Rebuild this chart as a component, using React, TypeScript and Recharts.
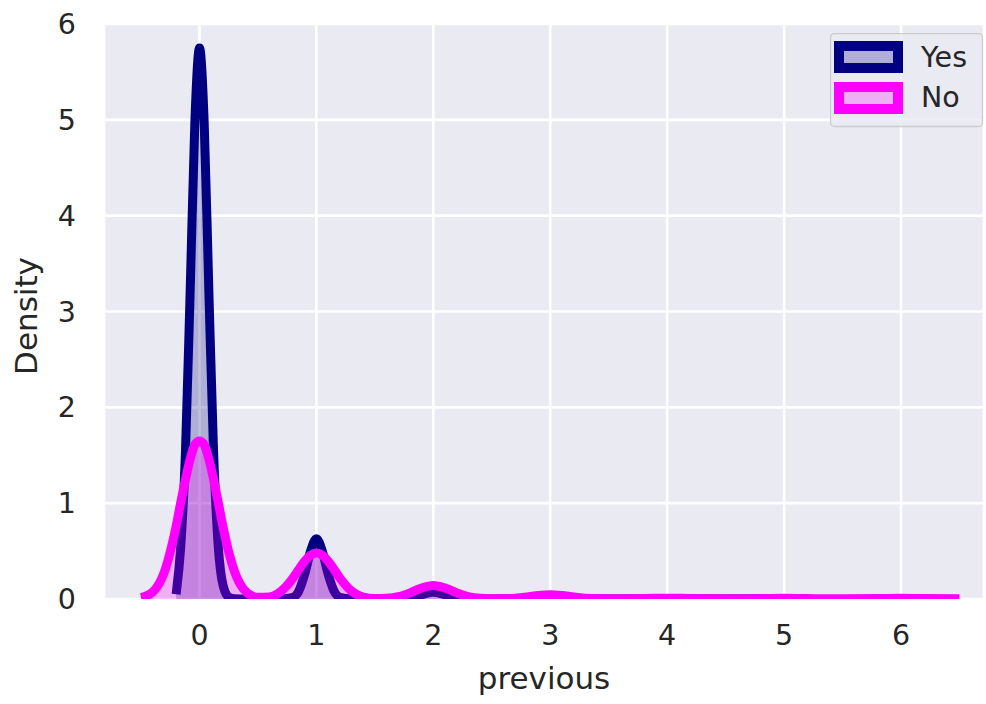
import { Area, CartesianGrid, ComposedChart, Label, Legend, XAxis, YAxis } from "recharts";

// grid of "previous" values the densities were read at
const xs = [
  -0.5, -0.4, -0.3, -0.2, -0.16, -0.12, -0.08, -0.04, 0, 0.04, 0.08, 0.12, 0.16, 0.2, 0.25, 0.3, 0.4, 0.5,
  0.6, 0.7, 0.8, 0.85, 0.9, 0.95, 1, 1.05, 1.1, 1.15, 1.2, 1.3, 1.4, 1.5, 1.6, 1.7, 1.8, 1.9, 2, 2.1, 2.2,
  2.3, 2.4, 2.5, 2.6, 2.7, 2.8, 2.9, 3, 3.1, 3.2, 3.3, 3.4, 3.6, 3.8, 4, 4.2, 4.5, 4.8, 5, 5.2, 5.5, 5.8, 6,
  6.2, 6.5,
];

const yesDensity: (number | null)[] = [
  null, null, null, 0.05, 0.555, 1.54, 3.21, 4.97, 5.75, 4.97, 3.21, 1.54, 0.555, 0.15, 0.02, 0.003, 0.001, 0.001,
  0.001, 0.001, 0.018, 0.085, 0.26, 0.5, 0.63, 0.5, 0.26, 0.085, 0.018, 0.002, 0.001, 0.001, 0.001, 0.002, 0.01,
  0.045, 0.07, 0.045, 0.01, 0.002, 0.001, 0.001, 0.001, 0.001, 0.004, 0.014, 0.022, 0.014, 0.004, 0.001, 0.001,
  0.001, 0.002, 0.006, 0.002, 0.001, 0.002, 0.006, 0.003, null, null, null, null, null,
];

const noDensity = [
  0.015, 0.073, 0.285, 0.76, 1.01, 1.25, 1.46, 1.61, 1.65, 1.61, 1.46, 1.25, 1.01, 0.76, 0.49, 0.285, 0.073, 0.017,
  0.022, 0.083, 0.22, 0.31, 0.395, 0.457, 0.48, 0.457, 0.395, 0.31, 0.22, 0.083, 0.021, 0.005, 0.008, 0.024, 0.064,
  0.115, 0.14, 0.115, 0.064, 0.024, 0.007, 0.003, 0.004, 0.009, 0.021, 0.037, 0.045, 0.037, 0.021, 0.009, 0.004,
  0.003, 0.005, 0.009, 0.005, 0.003, 0.005, 0.008, 0.004, 0.002, 0.004, 0.007, 0.004, 0.002,
];

const xTicks = [0, 1, 2, 3, 4, 5, 6];
const yTicks = [0, 1, 2, 3, 4, 5, 6];

const seriesNames = ["Yes", "No"];
const seriesColors = ["#000080", "#ff00ff"];

const rows = xs.map((x, i) => ({ x, yes: yesDensity[i], no: noDensity[i] }));

const FONT = "'DejaVu Sans', sans-serif";
const TEXT = "#262626";

function KdeLegend(): JSX.Element {
  return (
    <svg width={154} height={95} style={{ display: "block" }}>
      <rect x={0.5} y={0.5} width={152} height={93} rx={4} fill="rgba(234,234,242,0.8)" stroke="#cccccc" strokeWidth={1.3} />
      {seriesNames.map((name, i) => (
        <g key={name}>
          <rect x={9} y={13 + i * 41} width={59} height={22} fill={seriesColors[i]} fillOpacity={0.25} stroke={seriesColors[i]} strokeWidth={10} />
          <text x={91} y={34 + i * 40} fontSize={28.5} fontFamily={FONT} fill={TEXT}>
            {name}
          </text>
        </g>
      ))}
    </svg>
  );
}

export default function App(): JSX.Element {
  return (
    <div style={{ position: "absolute", left: 0, top: 0, width: 986, height: 704, background: "#fff" }}>
      <ComposedChart width={986} height={704} data={rows} margin={{ top: 24, right: 2, left: 0, bottom: 0 }}>
        <CartesianGrid fill="#EAEAF2" stroke="#ffffff" strokeWidth={2.6} />
        <XAxis
          dataKey="x"
          type="number"
          domain={[-0.817, 6.71]}
          ticks={xTicks}
          allowDataOverflow
          axisLine={false}
          tickLine={false}
          tickSize={0}
          tickMargin={26}
          height={105}
          tick={{ fill: TEXT, fontSize: 28.5, fontFamily: FONT }}
        >
          <Label
            content={() => (
              <text x={544} y={689} textAnchor="middle" fontSize={31} fontFamily={FONT} fill={TEXT}>
                previous
              </text>
            )}
          />
        </XAxis>
        <YAxis
          type="number"
          domain={[0, 6]}
          ticks={yTicks}
          allowDataOverflow
          axisLine={false}
          tickLine={false}
          tickSize={0}
          tickMargin={28}
          width={104}
          tick={{ fill: TEXT, fontSize: 28.5, fontFamily: FONT }}
        >
          <Label
            content={() => (
              <text
                x={37}
                y={316}
                transform="rotate(-90 37 316)"
                textAnchor="middle"
                fontSize={31}
                fontFamily={FONT}
                fill={TEXT}
              >
                Density
              </text>
            )}
          />
        </YAxis>
        <Area
          dataKey="yes"
          name="Yes"
          type="monotone"
          stroke={seriesColors[0]}
          strokeWidth={9}
          strokeLinejoin="round"
          fill={seriesColors[0]}
          fillOpacity={0.25}
          baseValue={0}
          isAnimationActive={false}
        />
        <Area
          dataKey="no"
          name="No"
          type="monotone"
          stroke={seriesColors[1]}
          strokeWidth={9}
          strokeLinejoin="round"
          fill={seriesColors[1]}
          fillOpacity={0.25}
          baseValue={0}
          isAnimationActive={false}
        />
        <Legend
          layout="vertical"
          align="center"
          verticalAlign="middle"
          content={() => <KdeLegend />}
          wrapperStyle={{ left: 830, top: 33, width: 154, height: 95 }}
        />
      </ComposedChart>
    </div>
  );
}
